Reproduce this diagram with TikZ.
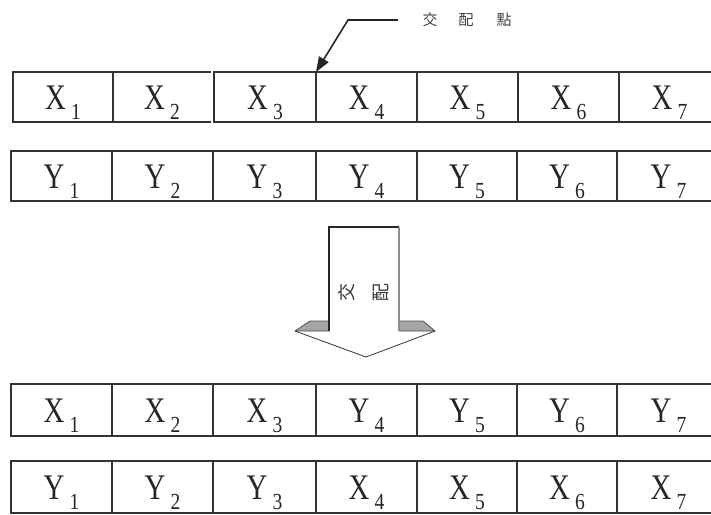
\documentclass[tikz,border=0pt]{standalone}
\usepackage{fontspec}
\usepackage{graphicx}
\setmainfont{Liberation Serif}
\newfontfamily\cjk{Noto Sans CJK TC}
\usetikzlibrary{arrows.meta}
\newcommand{\lab}[2]{{\fontsize{36}{36}\selectfont\scalebox{0.8}[1]{#1}}\hspace{5pt}\raisebox{-10pt}{\fontsize{23}{23}\selectfont\scalebox{0.85}[1]{#2}}}
\begin{document}
\begin{tikzpicture}[x=1pt,y=-1pt,
  cellbox/.style={draw=black!80, line width=1.4pt, anchor=north west, inner sep=0pt, outer sep=0pt},
  celltext/.style={anchor=base, inner sep=0pt, text=black!85},
  cellline/.style={draw=black!80, line width=1.4pt},
  cjklab/.style={font=\cjk\fontsize{15}{15}\selectfont, text=black!75, inner sep=0pt},
  arrowtext/.style={font=\cjk\fontsize{18}{18}\selectfont, text=black!80, inner sep=0pt, rotate=90},
  wing/.style={fill=black!35, draw=black!70, line width=0.8pt, line join=round}]
\useasboundingbox (0,0) rectangle (711,514);
% row 1
\foreach \l/\r/\t/\s/\d [count=\i] in {13/113/X/1/black!80, 113/211/X/2/none, 214/316/X/3/black!80, 316/417/X/4/black!80, 417/518/X/5/black!80, 518/619/X/6/black!80, 619/720/X/7/black!80}{
  \node[cellbox, draw=\d, minimum width={(\r-\l)*1pt}, minimum height=50pt] (a\i) at (\l,72) {};
  \node[celltext] (ta\i) at ({(\l+\r)/2},109) {\lab{\t}{\s}};
}
\draw[cellline] (a2.north east) -- (a2.north west) -- (a2.south west) -- (a2.south east);
% row 2
\foreach \l/\r/\t/\s [count=\i] in {11/112/Y/1, 112/213/Y/2, 213/316/Y/3, 316/417/Y/4, 417/517/Y/5, 517/617/Y/6, 617/720/Y/7}{
  \node[cellbox, minimum width={(\r-\l)*1pt}, minimum height=50pt] (b\i) at (\l,151) {};
  \node[celltext] (tb\i) at ({(\l+\r)/2},188) {\lab{\t}{\s}};
}
% row 3
\foreach \l/\r/\t/\s [count=\i] in {11/112/X/1, 112/213/X/2, 213/316/X/3, 316/417/Y/4, 417/517/Y/5, 517/617/Y/6, 617/720/Y/7}{
  \node[cellbox, minimum width={(\r-\l)*1pt}, minimum height=52pt] (c\i) at (\l,384) {};
  \node[celltext] (tc\i) at ({(\l+\r)/2},422) {\lab{\t}{\s}};
}
% row 4
\foreach \l/\r/\t/\s [count=\i] in {11/112/Y/1, 112/213/Y/2, 213/316/Y/3, 316/417/X/4, 417/517/X/5, 517/617/X/6, 617/720/X/7}{
  \node[cellbox, minimum width={(\r-\l)*1pt}, minimum height=52pt] (d\i) at (\l,461) {};
  \node[celltext] (td\i) at ({(\l+\r)/2},499) {\lab{\t}{\s}};
}
% crossover point callout
\node[cjklab] (cl) at (467,20) {交\hspace{21pt}配\hspace{23pt}點};
\coordinate (p0) at (398,20);
\coordinate (p1) at (348,20);
\draw[line width=1.6pt, black!85, -{Triangle[length=15pt,width=11pt]}] (p0) -- (p1) -- (a4.north west);
% block arrow
\filldraw[wing] (295,331) -- (310,321) -- (329,321) -- (329,331) -- cycle;
\filldraw[wing] (399,331) -- (399,321) -- (423,321) -- (435,331) -- cycle;
\draw[black!85, line width=1.2pt] (329,331) -- (329,227) -- (399,227);
\draw[black!45, line width=1.2pt] (399,227) -- (399,331);
\draw[black!80, line width=0.8pt] (295,331) -- (366,357) -- (435,331);
\node[arrowtext] (ax) at (347,292) {交};
\node[arrowtext] (ay) at (381,292) {配};
\end{tikzpicture}
\end{document}
